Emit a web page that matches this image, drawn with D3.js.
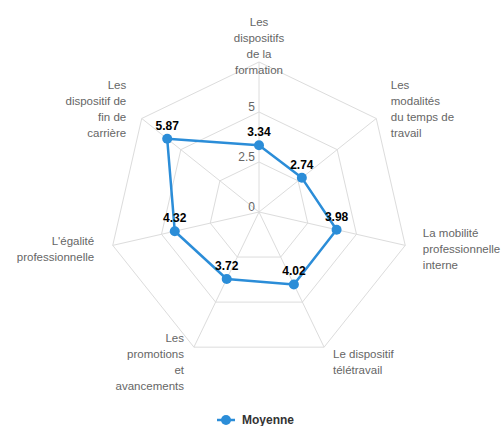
<!DOCTYPE html>
<html>
<head>
<meta charset="utf-8">
<script src="https://cdn.jsdelivr.net/npm/d3@7"></script>
<style>
  body { margin: 0; background: #fff; }
  svg { display: block; font-family: "Liberation Sans", Arial, sans-serif; }
</style>
</head>
<body>
<svg id="chart"></svg>
<script>
// data
const categories = [
    ["Les", "dispositifs", "de la", "formation"],
    ["Les", "modalités", "du temps de", "travail"],
    ["La mobilité", "professionnelle", "interne"],
    ["Le dispositif", "télétravail"],
    ["Les", "promotions", "et", "avancements"],
    ["L'égalité", "professionnelle"],
    ["Les", "dispositif de", "fin de", "carrière"]
];
const moyenne = [3.34, 2.74, 3.98, 4.02, 3.72, 4.32, 5.87];
const ticks = [0, 2.5, 5, 7.5];
const tickLabels = ["0", "2.5", "5"];
const seriesName = "Moyenne";

const width = 504, height = 426;
const cx = 259, cy = 212, radius = 150;
const color = "#2b8dd8";

const svg = d3.select("#chart")
    .attr("width", width)
    .attr("height", height);

const r = d3.scaleLinear().domain([0, 7.5]).range([0, radius]);
const angle = d3.scaleLinear().domain([0, categories.length]).range([0, 2 * Math.PI]);

function px(i, v) { return cx + r(v) * Math.sin(angle(i)); }
function py(i, v) { return cy - r(v) * Math.cos(angle(i)); }

const g = svg.append("g");

// grid rings
g.selectAll("polygon.ring")
    .data(ticks.slice(1))
    .enter().append("polygon")
    .attr("class", "ring")
    .attr("points", t => categories.map((c, i) => px(i, t) + "," + py(i, t)).join(" "))
    .attr("fill", "none")
    .attr("stroke", "#dcdcdc")
    .attr("stroke-width", 1);

// spokes
g.selectAll("line.spoke")
    .data(categories)
    .enter().append("line")
    .attr("class", "spoke")
    .attr("x1", cx).attr("y1", cy)
    .attr("x2", (d, i) => px(i, 7.5))
    .attr("y2", (d, i) => py(i, 7.5))
    .attr("stroke", "#dcdcdc")
    .attr("stroke-width", 1);

// radial tick labels
g.selectAll("text.tick")
    .data(tickLabels)
    .enter().append("text")
    .attr("class", "tick")
    .attr("x", cx - 4)
    .attr("y", d => cy - r(+d) - 1)
    .attr("text-anchor", "end")
    .attr("fill", "#666")
    .style("font-size", "12px")
    .text(d => d);

// category labels
const lineH = 16;
const lab = g.selectAll("text.cat")
    .data(categories)
    .enter().append("text")
    .attr("class", "cat")
    .attr("fill", "#666")
    .style("font-size", "11.5px")
    .attr("text-anchor", (d, i) => {
        const s = Math.sin(angle(i));
        return s > 0.1 ? "start" : (s < -0.1 ? "end" : "middle");
    })
    .attr("transform", (d, i) => {
        const s = Math.sin(angle(i));
        const x = px(i, 7.5 + 0.8) + (s > 0.1 ? 2 : (s < -0.1 ? -3 : 0));
        const y = py(i, 7.5 + 0.8) - (d.length - 1) * lineH / 2 + 4;
        return "translate(" + x + "," + y + ")";
    });
lab.selectAll("tspan")
    .data(d => d)
    .enter().append("tspan")
    .attr("x", 0)
    .attr("y", (d, j) => j * lineH)
    .text(d => d);

// series line
const line = d3.line()
    .x(d => px(d.i, d.v))
    .y(d => py(d.i, d.v))
    .curve(d3.curveLinearClosed);
const pts = moyenne.map((v, i) => ({i: i, v: v}));

g.append("path")
    .datum(pts)
    .attr("d", line)
    .attr("fill", "none")
    .attr("stroke", color)
    .attr("stroke-width", 2.5)
    .attr("stroke-linejoin", "round");

g.selectAll("circle.pt")
    .data(pts)
    .enter().append("circle")
    .attr("class", "pt")
    .attr("cx", d => px(d.i, d.v))
    .attr("cy", d => py(d.i, d.v))
    .attr("r", 5)
    .attr("fill", color);

// data labels
g.selectAll("text.val")
    .data(pts)
    .enter().append("text")
    .attr("class", "val")
    .attr("x", d => px(d.i, d.v))
    .attr("y", d => py(d.i, d.v) - 9)
    .attr("text-anchor", "middle")
    .attr("fill", "#000")
    .style("font-size", "12px")
    .style("font-weight", "bold")
    .text(d => d.v.toFixed(2));

// legend
const leg = svg.append("g").attr("transform", "translate(226,420)");
leg.append("line")
    .attr("x1", -9).attr("x2", 9)
    .attr("y1", 0).attr("y2", 0)
    .attr("stroke", color)
    .attr("stroke-width", 2.5);
leg.append("circle")
    .attr("r", 5)
    .attr("fill", color);
leg.append("text")
    .attr("x", 16)
    .attr("y", 4)
    .attr("fill", "#333")
    .style("font-size", "12px")
    .style("font-weight", "bold")
    .text(seriesName);
</script>
</body>
</html>
